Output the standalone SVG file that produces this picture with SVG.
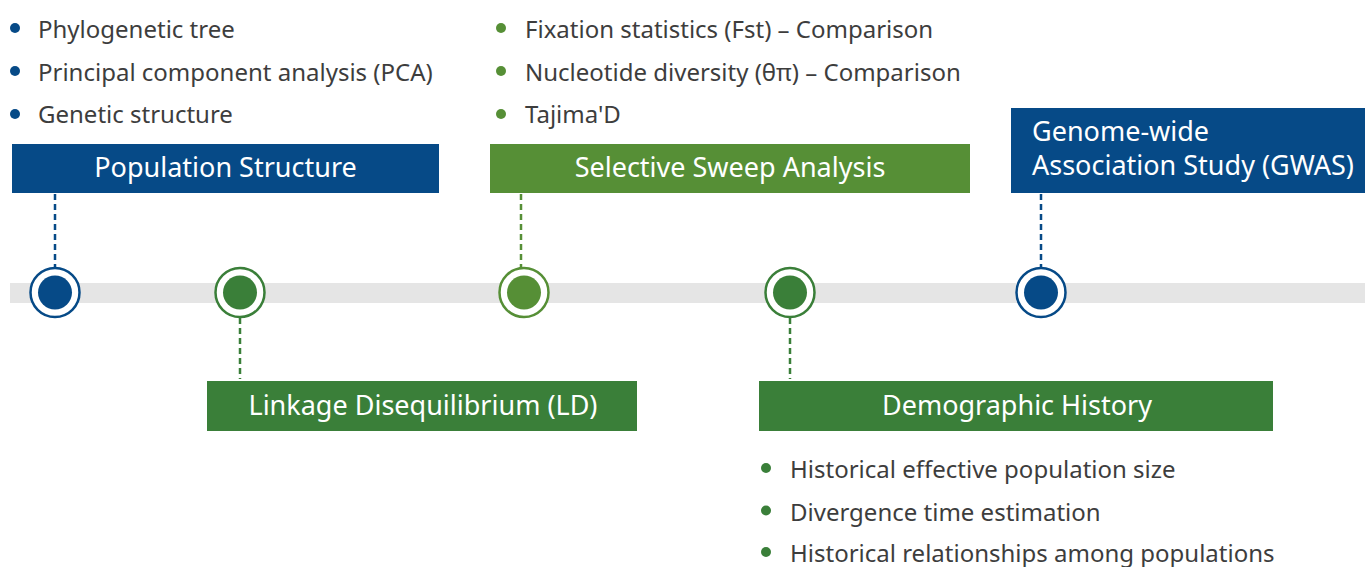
<svg xmlns="http://www.w3.org/2000/svg" width="1365" height="567" viewBox="0 0 1365 567">
<style>
.t{font-family:"Noto Sans","Liberation Sans",sans-serif;font-size:24px;fill:#3d3d3d}
.h{font-family:"Noto Sans","Liberation Sans",sans-serif;font-size:27px;fill:#ffffff}
.c{text-anchor:middle}
.blue{fill:#064a87}
.lg{fill:#568f36}
.dg{fill:#3a7f39}
.dash{stroke-width:2.5;stroke-dasharray:6 4;fill:none}
.ring{fill:#ffffff;stroke-width:2.5}
</style>
<rect x="10" y="283" width="1355" height="20" fill="#e5e5e5"/>
<g id="connectors">
<line class="dash" x1="55" y1="194" x2="55" y2="268" stroke="#064a87"/>
<line class="dash" x1="521" y1="194" x2="521" y2="268" stroke="#568f36"/>
<line class="dash" x1="1041" y1="194" x2="1041" y2="268" stroke="#064a87"/>
<line class="dash" x1="240" y1="318" x2="240" y2="379" stroke="#3a7f39"/>
<line class="dash" x1="790" y1="318" x2="790" y2="379" stroke="#3a7f39"/>
</g>
<g id="dot1"><circle class="ring" cx="55" cy="292.5" r="24.5" stroke="#064a87"/><circle class="blue" cx="55" cy="292.5" r="17"/></g>
<g id="dot2"><circle class="ring" cx="240" cy="292.5" r="24.5" stroke="#3a7f39"/><circle class="dg" cx="240" cy="292.5" r="17"/></g>
<g id="dot3"><circle class="ring" cx="524" cy="292.5" r="24.5" stroke="#568f36"/><circle class="lg" cx="524" cy="292.5" r="17"/></g>
<g id="dot4"><circle class="ring" cx="790" cy="292.5" r="24.5" stroke="#3a7f39"/><circle class="dg" cx="790" cy="292.5" r="17"/></g>
<g id="dot5"><circle class="ring" cx="1041" cy="292.5" r="24.5" stroke="#064a87"/><circle class="blue" cx="1041" cy="292.5" r="17"/></g>
<g id="population-structure">
<rect class="blue" x="12" y="144" width="427" height="49"/>
<text class="h c" x="225.5" y="177">Population Structure</text>
<circle class="blue" cx="15" cy="28" r="5"/><text class="t" x="38" y="38">Phylogenetic tree</text>
<circle class="blue" cx="15" cy="71" r="5"/><text class="t" x="38" y="80.5">Principal component analysis (PCA)</text>
<circle class="blue" cx="15" cy="114" r="5"/><text class="t" x="38" y="123">Genetic structure</text>
</g>
<g id="selective-sweep">
<rect class="lg" x="490" y="144" width="480" height="49"/>
<text class="h c" x="730" y="177">Selective Sweep Analysis</text>
<circle class="lg" cx="501" cy="28" r="5"/><text class="t" x="525" y="38">Fixation statistics (Fst) – Comparison</text>
<circle class="lg" cx="501" cy="71" r="5"/><text class="t" x="525" y="80.5">Nucleotide diversity (θπ) – Comparison</text>
<circle class="lg" cx="501" cy="114" r="5"/><text class="t" x="525" y="123">Tajima'D</text>
</g>
<g id="gwas">
<rect class="blue" x="1011" y="108" width="354" height="85"/>
<text class="h" x="1032" y="141">Genome-wide</text>
<text class="h" x="1032" y="175">Association Study (GWAS)</text>
</g>
<g id="linkage-disequilibrium">
<rect class="dg" x="207" y="381" width="430" height="50"/>
<text class="h c" x="423" y="415">Linkage Disequilibrium (LD)</text>
</g>
<g id="demographic-history">
<rect class="dg" x="759" y="381" width="514" height="50"/>
<text class="h c" x="1017" y="415">Demographic History</text>
<circle class="dg" cx="766" cy="468" r="5"/><text class="t" x="790" y="478">Historical effective population size</text>
<circle class="dg" cx="766" cy="510.5" r="5"/><text class="t" x="790" y="520.5">Divergence time estimation</text>
<circle class="dg" cx="766" cy="552" r="5"/><text class="t" x="790" y="562">Historical relationships among populations</text>
</g>
</svg>
